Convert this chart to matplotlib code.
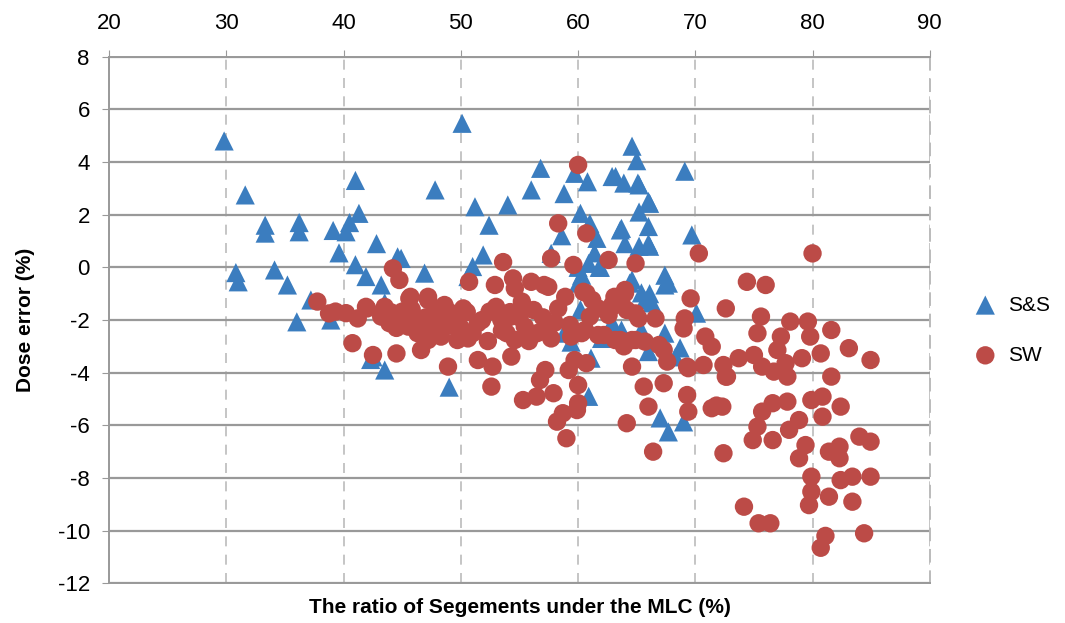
import matplotlib
matplotlib.use("Agg")
from matplotlib import pyplot as plt

plt.rcParams["font.family"] = ["Liberation Sans", "DejaVu Sans"]
plt.rcParams["axes.unicode_minus"] = False

# S&S series (triangles)
ss_x = [29.8, 31.6, 33.3, 33.3, 36.2, 36.2, 39.1, 40.2, 40.5, 41.3, 41.0, 39.6, 42.8, 41.0,
        41.9, 43.2, 44.6, 30.8, 31.0, 34.1, 35.2, 36.0, 37.2, 38.9, 43.5, 43.5, 42.5, 50.1,
        47.8, 51.2, 54.0, 52.4, 56.8, 56.0, 58.8, 59.7, 60.8, 62.9, 63.9, 65.1, 64.6, 65.0,
        66.0, 65.2, 69.1, 60.2, 58.6, 61.0, 61.6, 63.7, 64.0, 66.0, 66.0, 65.2, 61.4, 61.9,
        57.7, 51.9, 51.0, 50.6, 46.9, 44.9, 64.6, 67.4, 67.7, 60.0, 60.9, 69.7, 63.2, 65.2,
        66.1, 63.6, 66.1, 61.1, 60.0, 60.3, 61.8, 65.4, 66.1, 64.4, 67.4, 65.7, 66.3, 70.1,
        63.7, 65.4, 67.4, 66.0, 68.7, 68.3, 67.0, 67.7, 69.0, 59.4, 61.1, 60.9, 62.9, 49.0,
        42.3, 58.8, 60.2, 62.0]
ss_y = [4.8, 2.75, 1.6, 1.3, 1.7, 1.35, 1.4, 1.35, 1.7, 2.05, 3.3, 0.55, 0.9, 0.1,
        -0.35, -0.67, 0.4, -0.2, -0.55, -0.1, -0.67, -2.07, -1.24, -2.0, -1.35, -3.9, -3.4, 5.47,
        2.94, 2.3, 2.37, 1.6, 3.76, 2.94, 2.8, 3.57, 3.25, 3.45, 3.2, 3.2, 4.6, 4.05,
        2.5, 2.1, 3.65, 2.05, 1.2, 1.67, 1.1, 1.48, 0.9, 1.55, 0.9, 0.8, 0.55, 0.0,
        0.53, 0.47, 0.03, -0.35, -0.22, 0.34, -0.48, -0.3, -0.6, -0.6, 0.15, 1.23, 3.45, 3.13,
        2.43, 1.42, 0.8, 1.4, 0.0, -0.3, 0.0, -0.97, -1.0, -0.6, -0.67, -1.24, -1.35, -1.74,
        -2.38, -2.38, -2.5, -3.2, -3.06, -3.4, -5.72, -6.25, -5.87, -2.84, -3.45, -4.9, -2.1, -4.55,
        -3.5, -2.5, -1.6, -2.7]

# SW series (circles)
sw_x = [44.2, 44.75, 39.3, 40.2, 41.2, 41.9, 40.75, 42.5, 44.5, 43.2, 43.9, 45.6, 45.0, 45.5,
        46.6, 47.2, 47.2, 46.6, 46.0, 48.6, 48.6, 47.75, 48.9, 50.2, 49.7, 48.3, 50.7, 52.9,
        53.6, 51.45, 52.45, 53.45, 51.45, 52.7, 52.6, 50.6, 57.7, 59.6, 62.6, 64.9, 54.45, 54.6,
        56.0, 57.45, 58.9, 58.3, 60.45, 61.2, 64.0, 63.7, 62.9, 62.6, 64.9, 66.6, 61.0, 61.7,
        55.2, 56.2, 55.45, 54.6, 53.9, 54.3, 57.45, 57.7, 59.3, 59.4, 60.3, 61.7, 63.15, 64.6,
        65.7, 66.9, 67.6, 59.7, 60.7, 59.2, 57.2, 56.75, 57.9, 56.45, 55.3, 60.0, 60.0, 59.9,
        58.7, 58.2, 59.0, 64.6, 65.6, 67.3, 66.0, 64.15, 66.4, 80.0, 74.4, 76.0, 72.6, 75.6,
        75.3, 78.1, 79.6, 81.6, 77.3, 79.8, 83.1, 84.95, 80.7, 79.1, 77.0, 73.7, 75.0, 72.6,
        75.7, 76.7, 77.85, 77.7, 81.6, 72.3, 75.7, 76.6, 77.85, 78.85, 75.3, 74.9, 76.6, 78.0,
        79.4, 78.85, 79.9, 80.85, 80.85, 82.4, 81.4, 82.3, 82.3, 84.0, 84.95, 79.9, 79.9, 79.7,
        81.4, 82.4, 83.4, 84.95, 83.4, 74.15, 75.4, 76.4, 81.1, 80.7, 84.4, 70.3, 69.6, 69.1,
        69.0, 70.85, 71.4, 69.4, 70.7, 72.4, 72.7, 69.3, 69.4, 71.4, 71.8, 72.4, 64.0, 63.2,
        64.15, 65.15, 63.6, 63.9, 64.9, 67.3, 69.3, 60.0, 58.3, 60.7, 45.7, 47.2, 57.1, 37.75,
        38.75, 42.0, 60.7, 63.1, 54.1, 60.6, 62.2,
        43.5, 44.0, 44.5, 45.2, 45.8, 46.3, 47.0, 47.5, 48.0, 48.0, 49.0, 49.2, 49.6, 50.0,
        50.5, 51.0, 51.8, 52.3, 53.0, 53.5, 54.2, 55.0, 55.8, 56.5, 57.0, 58.0]
sw_y = [-0.04, -0.48, -1.68, -1.74, -1.94, -1.5, -2.88, -3.33, -3.27, -1.87, -2.12, -1.18, -1.68, -2.25,
        -3.14, -1.24, -2.76, -2.38, -2.0, -1.43, -2.25, -1.87, -3.77, -1.56, -2.76, -2.63, -0.55, -0.67,
        0.2, -2.12, -1.68, -2.0, -3.52, -3.77, -4.53, -2.7, 0.34, 0.09, 0.28, 0.15, -0.42, -0.8,
        -0.55, -0.74, -1.12, -1.56, -0.93, -1.24, -0.86, -1.37, -1.43, -1.81, -1.75, -1.94, -1.87, -1.56,
        -1.3, -1.62, -2.25, -2.76, -2.5, -3.39, -2.3, -2.7, -2.19, -2.63, -2.5, -2.57, -2.76, -2.76,
        -2.82, -2.95, -3.58, -3.52, -3.64, -3.9, -3.9, -4.28, -4.78, -4.91, -5.04, -4.47, -5.16, -5.42,
        -5.54, -5.86, -6.49, -3.77, -4.53, -4.4, -5.29, -5.92, -7.0, 0.53, -0.55, -0.67, -1.56, -1.87,
        -2.5, -2.06, -2.06, -2.38, -2.63, -2.63, -3.07, -3.52, -3.27, -3.45, -3.14, -3.45, -3.33, -4.15,
        -3.77, -3.96, -4.15, -3.64, -4.15, -5.29, -5.48, -5.16, -5.1, -5.8, -6.05, -6.56, -6.56, -6.17,
        -6.75, -7.25, -5.04, -4.91, -5.67, -5.29, -7.0, -6.81, -7.25, -6.43, -6.62, -7.95, -8.52, -9.03,
        -8.71, -8.08, -7.95, -7.95, -8.9, -9.09, -9.72, -9.72, -10.2, -10.65, -10.1, 0.53, -1.18, -1.94,
        -2.32, -2.63, -3.01, -3.83, -3.71, -3.71, -4.15, -4.85, -5.48, -5.35, -5.25, -7.06, -0.98, -1.43,
        -1.62, -1.94, -2.76, -3.0, -2.76, -3.14, -3.77, 3.89, 1.67, 1.29, -1.12, -1.12, -0.67, -1.3,
        -1.75, -1.56, -0.98, -1.12, -1.9, -2.38, -2.57,
        -1.5, -1.7, -2.3, -2.0, -1.6, -2.5, -1.9, -2.3, -1.6, -2.0, -1.7, -2.2, -1.9, -2.3,
        -1.7, -2.5, -2.0, -2.8, -1.5, -2.4, -1.7, -1.9, -2.8, -2.5, -1.9, -2.1]

x_ticks = [20, 30, 40, 50, 60, 70, 80, 90]
y_ticks = [-12, -10, -8, -6, -4, -2, 0, 2, 4, 6, 8]

fig = plt.figure(figsize=(10.65, 6.23), dpi=100)
ax = fig.add_axes([0.1026, 0.0637, 0.7704, 0.8453])

ax.scatter(ss_x, ss_y, marker="^", s=190, color="#3B7DBF", edgecolors="none", label="S&S", zorder=3)
ax.scatter(sw_x, sw_y, marker="o", s=175, color="#BC4B47", edgecolors="none", label="SW", zorder=4)

ax.set_xlim(20, 90)
ax.set_ylim(-12, 8)
ax.set_xticks(x_ticks)
ax.set_yticks(y_ticks)
ax.xaxis.tick_top()
ax.tick_params(axis="both", labelsize=16, color="#999999", length=5, direction="out")
ax.tick_params(axis="x", pad=11)
ax.tick_params(axis="y", pad=9)

ax.grid(axis="y", color="#999999", linewidth=1.6, linestyle="-", zorder=0)
ax.grid(axis="x", color="#bbbbbb", linewidth=1.2, linestyle=(0, (6, 5)), zorder=0)
ax.set_axisbelow(True)
for sp in ax.spines.values():
    sp.set_color("#999999")
    sp.set_linewidth(1.4)
ax.spines["right"].set_linestyle((0, (6, 5)))
ax.spines["right"].set_color("#bbbbbb")

fig.text(0.488, 0.025, "The ratio of Segements under the MLC (%)", ha="center", va="center",
         fontsize=15, fontweight="bold")
fig.text(0.024, 0.487, "Dose error (%)", ha="center", va="center", rotation=90,
         fontsize=15, fontweight="bold")

fig.legend(loc="center left", bbox_to_anchor=(0.888, 0.47), frameon=False, fontsize=15,
           labelspacing=1.5, handletextpad=0.1, markerscale=1.0)

fig.savefig("out.png", dpi=100)
